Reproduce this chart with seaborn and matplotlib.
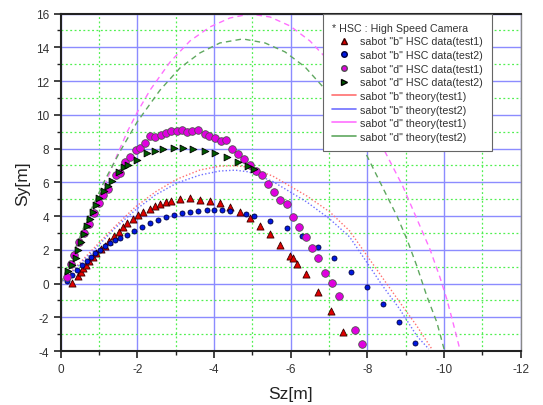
import matplotlib
matplotlib.use('Agg')
import matplotlib.pyplot as plt
from matplotlib.lines import Line2D
from matplotlib.ticker import MultipleLocator
import pandas as pd
import seaborn as sns

# HSC data, sabot "b" test1
b1_sz = [-0.29, -0.45, -0.53, -0.58, -0.66, -0.74, -0.84, -0.92, -1.05, -1.15,
         -1.26, -1.39, -1.52, -1.62, -1.73, -1.88, -2.02, -2.15, -2.33, -2.46,
         -2.59, -2.74, -2.87, -3.11, -3.37, -3.63, -3.89, -4.15, -4.41, -4.67,
         -4.93, -5.19, -5.46, -5.72, -5.98, -6.06, -6.16, -6.39, -6.71, -7.05,
         -7.36]
b1_sy = [0.02, 0.44, 0.68, 0.91, 1.09, 1.33, 1.57, 1.80, 2.04, 2.22,
         2.51, 2.81, 3.05, 3.35, 3.58, 3.82, 4.06, 4.23, 4.41, 4.59,
         4.71, 4.83, 4.89, 5.01, 5.07, 4.95, 4.89, 4.77, 4.53, 4.23,
         3.88, 3.40, 2.93, 2.28, 1.63, 1.51, 1.15, 0.56, -0.51, -1.64,
         -2.88]

# HSC data, sabot "b" test2
b2_sz = [-0.16, -0.29, -0.42, -0.56, -0.69, -0.79, -0.89, -1.02, -1.16, -1.29,
         -1.41, -1.55, -1.73, -1.91, -2.12, -2.33, -2.54, -2.74, -2.95, -3.16,
         -3.37, -3.58, -3.81, -4.00, -4.20, -4.41, -4.83, -5.04, -5.46, -5.90,
         -6.29, -6.71, -7.12, -7.57, -7.98, -8.40, -8.82, -9.24]
b2_sy = [0.14, 0.50, 0.80, 1.09, 1.33, 1.57, 1.80, 1.98, 2.22, 2.40,
         2.57, 2.69, 2.87, 3.11, 3.35, 3.58, 3.76, 3.94, 4.06, 4.18,
         4.23, 4.29, 4.35, 4.35, 4.35, 4.29, 4.12, 4.00, 3.70, 3.27,
         2.81, 2.16, 1.51, 0.68, -0.21, -1.22, -2.29, -3.54]

# HSC data, sabot "d" test1
d1_sz = [-0.16, -0.27, -0.35, -0.48, -0.61, -0.74, -0.87, -1.00, -1.10, -1.23,
         -1.44, -1.55, -1.68, -1.81, -1.96, -2.07, -2.20, -2.33, -2.46, -2.62,
         -2.75, -2.88, -3.03, -3.16, -3.29, -3.42, -3.58, -3.76, -3.87, -4.02,
         -4.18, -4.31, -4.47, -4.62, -4.78, -4.94, -5.09, -5.25, -5.40, -5.56,
         -5.72, -5.90, -6.06, -6.21, -6.40, -6.55, -6.71, -6.89, -7.07, -7.26,
         -7.67, -7.86]
d1_sy = [0.38, 1.15, 1.68, 2.46, 2.99, 3.52, 4.18, 4.77, 5.24, 5.60,
         6.43, 6.55, 7.20, 7.50, 7.91, 8.03, 8.33, 8.74, 8.68, 8.80,
         8.92, 9.04, 9.04, 9.10, 8.98, 9.04, 9.10, 8.86, 8.74, 8.62,
         8.45, 8.51, 7.97, 7.67, 7.38, 7.02, 6.67, 6.43, 5.90, 5.42,
         4.95, 4.71, 3.94, 3.35, 2.75, 2.10, 1.51, 0.62, 0.02, -0.74,
         -2.76, -3.59]

# HSC data, sabot "d" test2
d2_sz = [-0.19, -0.29, -0.40, -0.45, -0.53, -0.61, -0.69, -0.76, -0.84, -0.92,
         -1.00, -1.13, -1.23, -1.34, -1.52, -1.65, -1.75, -1.99, -2.25, -2.46,
         -2.67, -2.95, -3.19, -3.45, -3.76, -4.02, -4.34, -4.62, -4.88, -5.04]
d2_sy = [0.74, 1.09, 1.51, 1.98, 2.46, 2.93, 3.40, 3.82, 4.23, 4.65,
         5.07, 5.48, 5.78, 6.08, 6.61, 6.91, 7.03, 7.32, 7.73, 7.85,
         7.97, 8.03, 8.03, 7.97, 7.85, 7.73, 7.50, 7.20, 6.96, 6.79]

# theory trajectories
tb1_sz = [0.0, -0.29, -0.89, -1.42, -1.94, -2.46, -3.03, -3.63, -4.15, -4.55,
          -4.90, -5.53, -6.42, -7.02, -7.54, -7.98, -8.40, -8.84, -9.29, -9.68]
tb1_sy = [0.0, 0.74, 2.16, 3.40, 4.53, 5.42, 6.19, 6.73, 6.96, 6.98,
          6.90, 6.37, 5.19, 4.24, 3.11, 1.68, 0.32, -1.10, -2.52, -3.88]
tb2_sz = [0.0, -0.29, -0.89, -1.42, -1.94, -2.46, -3.03, -3.63, -4.15, -4.55,
          -4.90, -5.53, -6.42, -7.02, -7.54, -7.98, -8.40, -8.84, -9.29, -9.60]
tb2_sy = [0.0, 0.68, 2.04, 3.29, 4.35, 5.24, 5.96, 6.43, 6.67, 6.72,
          6.62, 6.05, 4.83, 3.82, 2.75, 1.27, -0.15, -1.51, -3.11, -3.88]
td1_sz = [0.0, -0.37, -0.76, -1.15, -1.47, -1.73, -2.01, -2.33, -2.85, -3.37,
          -3.89, -4.41, -4.93, -5.46, -5.98, -6.50, -7.02, -7.54, -8.06, -8.45,
          -8.92, -9.37, -9.63, -9.89, -10.07, -10.23, -10.41]
td1_sy = [0.0, 1.92, 3.94, 5.84, 7.62, 8.98, 10.22, 11.47, 13.13, 14.38,
          15.21, 15.74, 15.98, 15.80, 15.27, 14.38, 13.13, 11.53, 9.56, 7.85,
          5.78, 3.41, 2.04, 0.38, -0.92, -2.29, -3.89]
td2_sz = [0.0, -0.37, -0.76, -1.15, -1.55, -1.99, -2.59, -3.11, -3.63, -4.15,
          -4.75, -5.33, -5.85, -6.37, -6.89, -7.41, -7.94, -8.25, -8.51, -8.77,
          -9.03, -9.29, -9.55, -9.81, -10.00]
td2_sy = [0.0, 2.04, 4.24, 6.13, 7.85, 9.57, 11.47, 12.78, 13.67, 14.26,
          14.50, 14.26, 13.73, 12.84, 11.53, 9.93, 7.79, 6.37, 5.18, 4.00,
          2.63, 1.03, -0.75, -2.29, -3.89]

data_labels = ['sabot "b" HSC data(test1)', 'sabot "b" HSC data(test2)',
               'sabot "d" HSC data(test1)', 'sabot "d" HSC data(test2)']
theory_labels = ['sabot "b" theory(test1)', 'sabot "b" theory(test2)',
                 'sabot "d" theory(test1)', 'sabot "d" theory(test2)']

sns.set_style('white')
plt.rcParams['font.family'] = ['Liberation Sans', 'DejaVu Sans']
plt.rcParams['axes.unicode_minus'] = False

fig, ax = plt.subplots(figsize=(5.43, 4.06), dpi=100)
fig.subplots_adjust(left=0.112, right=0.959, top=0.964, bottom=0.133)

# theory curves (dotted / dashed)
theory = [(tb1_sz, tb1_sy, '#ff7070', (0, (1, 1.5))),
          (tb2_sz, tb2_sy, '#7070ff', (0, (1, 1.5))),
          (td1_sz, td1_sy, '#ff70ff', (0, (4, 3))),
          (td2_sz, td2_sy, '#60a860', (0, (4, 3)))]
for sz, sy, c, ls in theory:
    df = pd.DataFrame({'Sz': sz, 'Sy': sy})
    sns.lineplot(data=df, x='Sz', y='Sy', sort=False, estimator=None,
                 color=c, linestyle=ls, linewidth=1.0, ax=ax, zorder=2)

# measured points
markers = [(b1_sz, b1_sy, '^', '#e00000', '#3a0000', 26),
           (b2_sz, b2_sy, 'o', '#0018e0', '#000040', 13),
           (d1_sz, d1_sy, 'o', '#e000e0', '#505050', 30),
           (d2_sz, d2_sy, '>', '#005a00', '#000000', 24)]
for sz, sy, m, fc, ec, s in markers:
    df = pd.DataFrame({'Sz': sz, 'Sy': sy})
    sns.scatterplot(data=df, x='Sz', y='Sy', marker=m, color=fc,
                    edgecolor=ec, linewidth=0.6, s=s, ax=ax, zorder=3)

ax.set_xlim(0, -12)
ax.set_ylim(-4, 16)
ax.xaxis.set_major_locator(MultipleLocator(2))
ax.xaxis.set_minor_locator(MultipleLocator(1))
ax.yaxis.set_major_locator(MultipleLocator(2))
ax.yaxis.set_minor_locator(MultipleLocator(1))

# blue major grid, green dotted minor grid
ax.grid(which='major', color='#8c8cff', linestyle='-', linewidth=1.0)
ax.grid(which='minor', color='#50f050', linestyle=(0, (1.5, 2)), linewidth=0.9)
ax.set_axisbelow(True)

ax.tick_params(which='major', direction='out', length=5, width=1.2,
               labelsize=8.5, labelcolor='#333333', color='#222222')
ax.tick_params(which='minor', direction='out', length=3, width=1.0,
               color='#222222')
ax.tick_params(left=True, bottom=True, which='both')

ax.set_xlabel('Sz[m]', fontsize=12.5, color='#222222', labelpad=8)
ax.set_ylabel('Sy[m]', fontsize=12.5, color='#222222', labelpad=4)

for s in ['left', 'bottom', 'top']:
    ax.spines[s].set_linewidth(1.5)
    ax.spines[s].set_color('#222222')
ax.spines['right'].set_linewidth(1.0)
ax.spines['right'].set_color('#888888')

# legend with solid line handles
handles = []
for (sz, sy, m, fc, ec, s), lab in zip(markers, data_labels):
    handles.append(Line2D([], [], linestyle='none', marker=m, markerfacecolor=fc,
                          markeredgecolor=ec, markersize=4.0, label=lab))
for (sz, sy, c, ls), lab in zip(theory, theory_labels):
    handles.append(Line2D([], [], color=c, linewidth=1.2, label=lab))
leg = ax.legend(handles=handles, title='* HSC : High Speed Camera',
                loc='upper left', bbox_to_anchor=(0.57, 1.0), fontsize=7.7,
                title_fontsize=7.7, alignment='left', frameon=True,
                fancybox=False, edgecolor='#666666', framealpha=1.0,
                handlelength=2.2, handletextpad=0.4, labelspacing=0.34,
                borderpad=0.85, borderaxespad=0.0)
leg.get_frame().set_linewidth(0.8)
for t in leg.get_texts():
    t.set_color('#333333')
leg.get_title().set_color('#333333')
leg.set_zorder(5)

fig.savefig('out.png', dpi=100)
plt.close(fig)
